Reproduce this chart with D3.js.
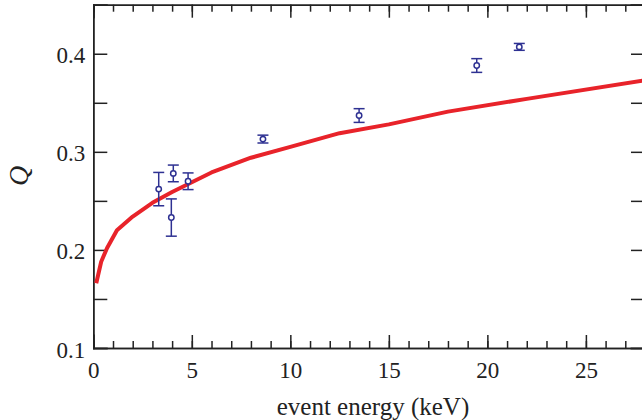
<!DOCTYPE html>
<html lang="en">
<head>
<meta charset="UTF-8">
<title>Q vs event energy</title>
<script src="https://d3js.org/d3.v7.min.js"></script>
<style>
body { margin: 0; background: #fff; }
svg { display: block; }
.axis path, .axis line { stroke: #222; stroke-width: 1.5px; }
.axis text { font: 23px 'Liberation Serif', 'DejaVu Serif', serif; fill: #222; }
.lbl { font-family: 'Liberation Serif', 'DejaVu Serif', serif; fill: #222; }
</style>
</head>
<body>
<svg width="642" height="420"></svg>
<script>
// measured points
var energy = [3.32, 3.96, 4.06, 4.81, 8.61, 13.49, 19.46, 21.62];
var qval   = [0.262, 0.233, 0.278, 0.270, 0.313, 0.337, 0.388, 0.407];
var qerr   = [0.017, 0.019, 0.0085, 0.0085, 0.004, 0.007, 0.007, 0.0035];

// model curve
var curveE = [0.15, 0.4, 0.7, 1.2, 2, 3, 4, 5, 6, 8, 10, 12.5, 15, 18, 22, 28];
var curveQ = [0.166, 0.188, 0.202, 0.220, 0.234, 0.248, 0.259, 0.269, 0.279, 0.294, 0.305, 0.319, 0.328, 0.341, 0.354, 0.373];

var xMajor = [0, 5, 10, 15, 20, 25];
var yMajor = [0.1, 0.2, 0.3, 0.4];
var yAll = [0.1, 0.15, 0.2, 0.25, 0.3, 0.35, 0.4, 0.45];

var svg = d3.select("svg"),
    margin = {left: 93.3, top: 4.7, right: -3, bottom: 72},
    width = 642 - margin.left - margin.right,
    height = 420 - margin.top - margin.bottom;

var g = svg.append("g")
    .attr("transform", "translate(" + margin.left + "," + margin.top + ")");

var x = d3.scaleLinear().domain([0, 28]).range([0, width]);
var y = d3.scaleLinear().domain([0.1, 0.45]).range([height, 0]);

var minorX = d3.range(0, 28.5, 1);

// bottom axis
g.append("g").attr("class", "axis")
    .attr("transform", "translate(0," + height + ")")
    .call(d3.axisBottom(x).tickValues(minorX).tickSize(-7).tickFormat(""));
g.append("g").attr("class", "axis")
    .attr("transform", "translate(0," + height + ")")
    .call(d3.axisBottom(x).tickValues(xMajor).tickSize(-13).tickPadding(14).tickFormat(d3.format("d")));

// top axis
g.append("g").attr("class", "axis")
    .call(d3.axisTop(x).tickValues(minorX).tickSize(-7).tickFormat(""));
g.append("g").attr("class", "axis")
    .call(d3.axisTop(x).tickValues(xMajor).tickSize(-13).tickFormat(""));

// left axis
g.append("g").attr("class", "axis")
    .call(d3.axisLeft(y).tickValues(yAll).tickSize(-14).tickFormat(""));
g.append("g").attr("class", "axis y-labels")
    .call(d3.axisLeft(y).tickValues(yMajor).tickSize(0).tickPadding(8).tickFormat(d3.format(".1f")));
g.selectAll(".y-labels text").attr("dy", "9px");

// right axis
g.append("g").attr("class", "axis")
    .attr("transform", "translate(" + width + ",0)")
    .call(d3.axisRight(y).tickValues(yAll).tickSize(-14).tickFormat(""));

g.selectAll(".axis .domain").attr("stroke-linecap", "square");

// model curve
var line = d3.line()
    .x(function(d, i) { return x(curveE[i]); })
    .y(function(d) { return y(d); });

g.append("path")
    .datum(curveQ)
    .attr("d", line)
    .attr("fill", "none")
    .attr("stroke", "#e8232a")
    .attr("stroke-width", 4)
    .attr("stroke-linejoin", "round");

// data points with error bars
var blue = "#2e3192";
var pts = g.selectAll(".pt")
    .data(energy.map(function(e, i) { return {e: e, q: qval[i], s: qerr[i]}; }))
    .enter().append("g").attr("class", "pt");

pts.append("line")
    .attr("x1", function(d) { return x(d.e); })
    .attr("x2", function(d) { return x(d.e); })
    .attr("y1", function(d) { return y(d.q - d.s); })
    .attr("y2", function(d) { return y(d.q + d.s); })
    .attr("stroke", blue).attr("stroke-width", 1.5);

[-1, 1].forEach(function(sg) {
    pts.append("line")
        .attr("x1", function(d) { return x(d.e) - 5.5; })
        .attr("x2", function(d) { return x(d.e) + 5.5; })
        .attr("y1", function(d) { return y(d.q + sg * d.s); })
        .attr("y2", function(d) { return y(d.q + sg * d.s); })
        .attr("stroke", blue).attr("stroke-width", 1.5);
});

pts.append("circle")
    .attr("cx", function(d) { return x(d.e); })
    .attr("cy", function(d) { return y(d.q); })
    .attr("r", 2.7)
    .attr("fill", "#fff")
    .attr("stroke", blue)
    .attr("stroke-width", 1.5);

// axis titles
svg.append("text").attr("class", "lbl")
    .attr("x", 373).attr("y", 415)
    .attr("text-anchor", "middle")
    .style("font-size", "25px")
    .text("event energy (keV)");

svg.append("text").attr("class", "lbl")
    .attr("transform", "translate(28,176) rotate(-90)")
    .attr("text-anchor", "middle")
    .style("font-size", "28px")
    .style("font-style", "italic")
    .text("Q");
</script>
</body>
</html>
